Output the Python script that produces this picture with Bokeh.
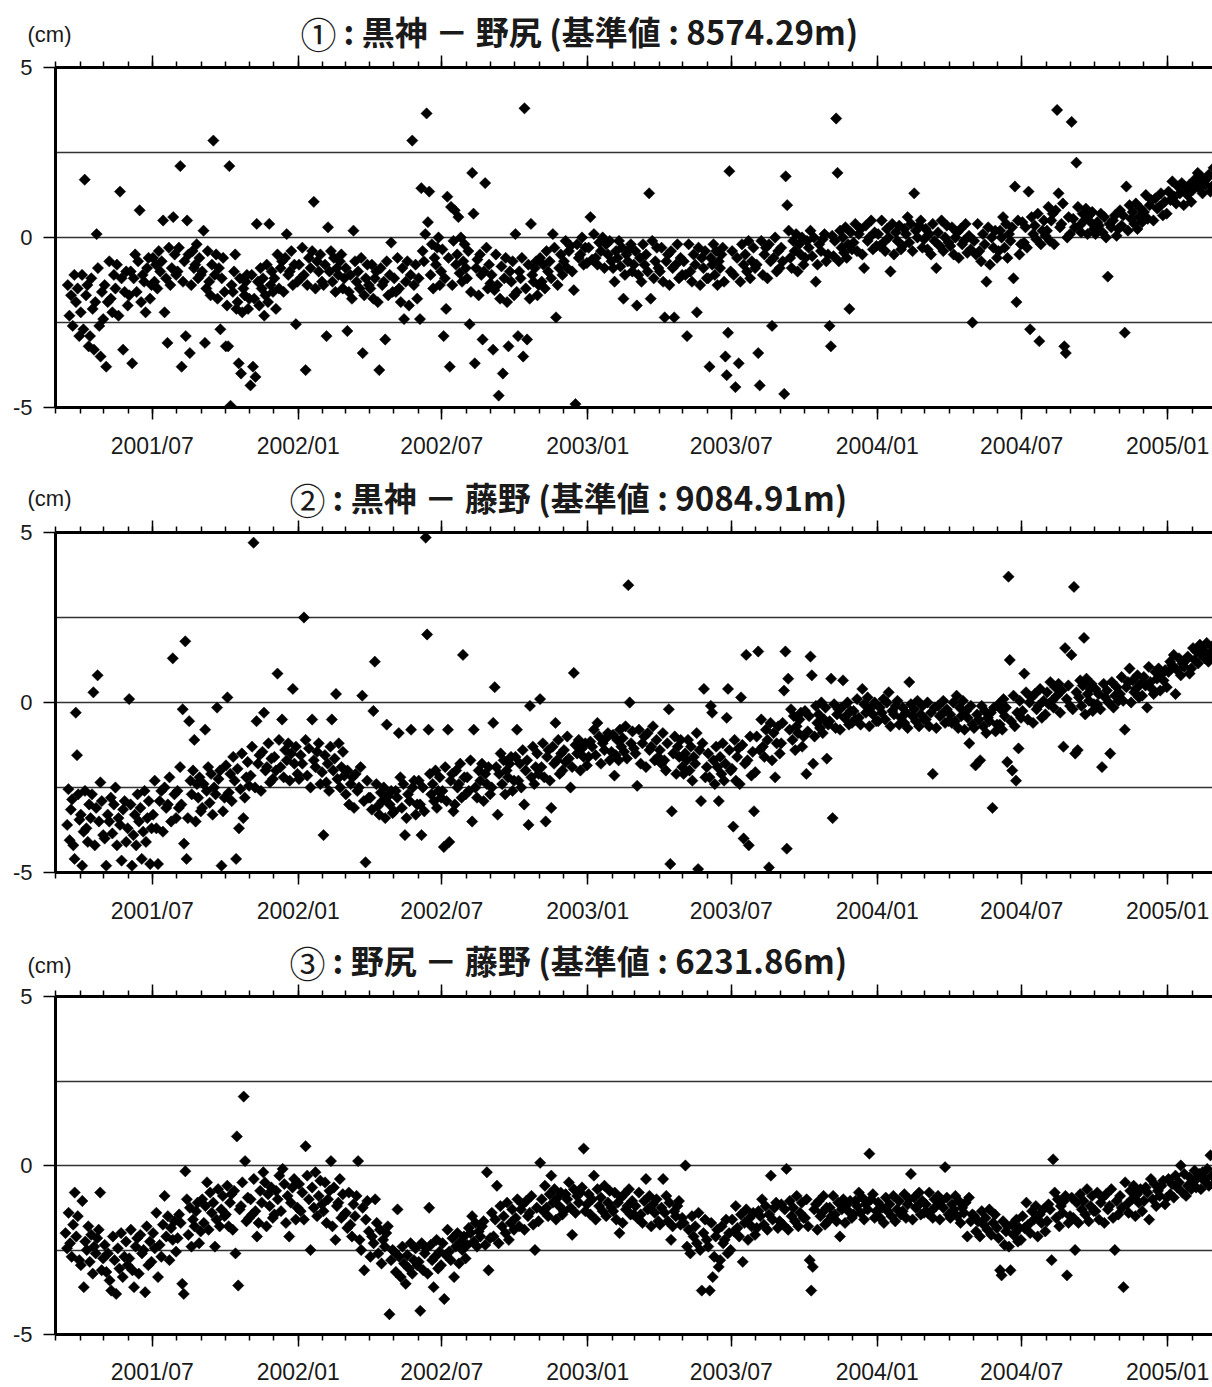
import numpy as np
import pandas as pd
from bokeh.plotting import figure
from bokeh.layouts import column
from bokeh.models import Range1d, LinearAxis, FixedTicker, Label, Grid
from bokeh.embed import file_html
from bokeh.resources import INLINE

# ---------------- data ----------------
months = [str(p) for p in pd.period_range("2001-03", "2005-02", freq="M")]

tick_dates = ["2001-07-01", "2002-01-01", "2002-07-01", "2003-01-01",
              "2003-07-01", "2004-01-01", "2004-07-01", "2005-01-01"]
tick_labels = ["2001/07", "2002/01", "2002/07", "2003/01",
               "2003/07", "2004/01", "2004/07", "2005/01"]
y_ticks = [-5, 0, 5]
y_tick_labels = ["-5", "0", "5"]

circled = ["①", "②", "③"]
title_texts = [": 黒神 － 野尻 (基準値 : 8574.29m)",
               ": 黒神 － 藤野 (基準値 : 9084.91m)",
               ": 野尻 － 藤野 (基準値 : 6231.86m)"]

N = None
p1_vals = [
    [N, N, N, N, N, N, N, -1.4, -2.3, -1.7, -2.6, -1.1, -1.9, -1.5, -2.9],
    [-2.2, -1.1, -2.7, 1.7, -1.7, -1.4, -3.2, -2.9, -1.2, -2.1, -3.3, -1.9, 0.1, -0.9, -2.6, -3.5, -1.6, -2.4],
    [-1.4, -3.8, -1.9, -0.7, -1.8, -2.2, -1.1, -1.5, -0.8, -2.3, 1.35, -1.2, -3.3, -1.6, -1.0, -2.0],
    [-1.7, -1.0, -3.7, -1.2, -0.5, -1.6, -0.7, 0.8, -1.9, -1.1, -1.3, -2.2, -0.9, -0.6, -1.8, -1.4],
    [-0.6, -1.3, -0.8, -1.5, -0.4, -1.0, -0.7, 0.5, -2.2, -1.2, -3.1, -0.3, -1.4, -0.9, 0.6, -0.5, -1.1],
    [-1.0, -0.3, 2.1, -3.8, -1.3, -0.7, -2.9, 0.5, -0.5, -3.4, -1.4, -0.4, -0.9, -0.8, -0.2, -1.2, -0.6, -1.1],
    [-1.0, 0.2, -3.1, -1.5, -0.4, -1.3, -1.7, -0.8, 2.85, -1.1, -0.5, -1.8, -0.9, -2.7, -1.2, -0.6, -1.6],
    [-3.2, -2.0, -3.2, 2.1, -4.95, -1.4, -1.6, -1.0, -0.5, -2.1, -1.9, -3.7, -1.2, -4.0, -2.2, -1.5, -1.7, -1.3, -1.1, -2.1, -1.8],
    [-4.35, -1.1, -3.8, -1.8, -4.1, 0.4, -1.3, -2.0, -0.9, -1.5, -1.2, -2.3, -1.7, -0.8, -1.9, 0.4, -1.4, -1.0, -1.6],
    [-1.2, -2.1, -0.5, -1.5, -0.9, -0.7, -1.6, -0.6, 0.1, -1.1, -1.0, -0.4, -1.4, -0.8, -2.55, -1.3],
    [-0.8, -1.2, -0.3, -1.1, -3.9, -1.4, -0.6, -0.9, -0.4, 1.05, -1.5, -0.7, -1.0, -0.5, -1.3],
    [-1.4, -0.8, -2.9, 0.3, -1.0, -0.4, -1.3, -0.6, -1.6, -0.9, -1.1, -0.7, -0.5, -1.5, -1.2],
    [-0.9, -2.75, -1.6, -1.1, -1.8, 0.2, -0.7, -1.3, -1.0, -1.5, -0.6, -3.4, -1.7, -1.2, -0.8, -1.4],
    [-1.5, -0.8, -1.8, -1.2, -1.0, -1.9, -3.9, -0.9, -1.4, -1.3, -3.0, -0.7, -1.7, -1.1, -0.15, -1.6],
    [-1.2, -1.6, -0.6, -1.5, -1.9, -0.9, -2.4, -1.3, -0.7, -2.0, -1.1, 2.85, -1.4, -0.8, -1.8],
    [-1.2, -2.4, 1.45, -0.4, -0.7, 0.1, 3.65, 0.45, 1.35, -1.1, -0.2, -1.5, -0.6, -0.8, -0.3, 0.0, -1.4, -1.0],
    [-0.35, -2.9, -1.2, -2.1, 1.2, -0.6, -3.8, 0.9, -1.4, -0.1, 0.8, -0.8, -0.5, 0.6, -1.05, 0.0, -1.3, -0.7, -0.2, -0.9],
    [-1.2, -0.4, -2.55, -1.6, 1.9, 0.7, -3.7, -0.9, -0.65, -1.7, -0.5, -1.1, -3.0, -1.0, 1.6, -0.3, -1.5, -0.8, -1.35],
    [-1.1, -3.3, -1.55, -0.5, -1.4, -4.65, -1.8, -0.85, -4.0, -1.2, -0.6, -1.9, -3.2, -1.0, -1.3, -0.7, -1.7],
    [0.1, -1.6, -2.9, -1.0, -1.2, -0.6, -3.5, 3.8, -1.5, -3.0, -0.8, -1.8, 0.4, -1.1, -1.3, -0.9, -0.7, -1.7, -1.4],
    [-0.6, -1.3, -0.8, -1.5, -0.4, -1.0, -0.7, -1.2, 0.1, -0.3, -2.35, -1.4, -0.9, -0.5, -1.1],
    [-0.7, -0.1, -0.9, -0.4, -0.25, -1.0, -1.55, -4.9, -0.2, -0.6, -0.5, 0.0, -0.8, -0.3, -0.75],
    [-0.3, 0.6, -0.65, 0.1, -0.6, -0.8, -0.15, -0.4, 0.0, -0.9, -0.2, -0.5, -0.1, -0.7],
    [-0.9, -1.3, -0.4, -0.6, -0.1, -0.85, -0.3, -1.8, -1.1, -0.5, -0.7, -0.35, -0.2, -1.0, -0.8],
    [-0.4, -2.0, -1.1, -0.6, -1.3, -0.2, -0.8, -0.5, -1.0, 1.3, -1.8, -0.1, -1.2, -0.7, -0.3, -0.9],
    [-1.0, -0.3, -1.3, -2.35, -0.7, -0.5, -1.4, -0.4, -0.9, -2.35, -0.8, -0.2, -1.2, -0.6, -1.1],
    [-0.7, -1.1, -2.9, -0.2, -1.0, -1.3, -0.5, -0.8, -2.2, -0.3, -1.4, -0.6, -0.9, -0.4, -1.2],
    [-1.2, -3.8, -0.6, -0.8, -0.2, -1.1, -0.4, -1.4, -0.7, -0.9, -0.5, -0.3, -1.3, -3.5, -4.05, -2.8, 1.95, -1.0],
    [-0.4, -1.1, -4.4, -0.6, -3.7, -1.3, -0.2, -0.8, -0.5, -1.0, -0.1, -1.2, -0.7, -0.3, -0.9],
    [-0.8, -3.4, -4.35, -0.1, -1.1, -0.5, -0.3, -1.2, -0.2, -0.7, -2.6, -0.6, 0.0, -1.0, -0.4, -0.9],
    [-0.3, -0.7, -4.6, 1.8, 0.95, 0.2, -0.6, -0.9, -0.1, -0.4, 0.1, -1.0, -0.2, -0.5, 0.0, -0.8],
    [-0.6, -0.1, -0.3, 0.2, -0.55, 0.0, -1.3, -0.8, -0.2, -0.4, -0.05, 0.1, -0.7, -0.5],
    [-2.6, -3.2, 0.05, -0.55, -0.1, 3.5, 1.9, -0.7, 0.2, -0.3, 0.0, -0.45, 0.3, -0.6, -0.2, -2.1, 0.15, -0.35],
    [-0.15, 0.4, -0.4, 0.1, 0.25, -0.5, -0.9, 0.35, -0.1, 0.0, 0.5, -0.35, 0.15, -0.25],
    [0.1, -0.25, 0.5, -0.15, -0.4, 0.25, 0.0, -1.0, 0.4, -0.5, 0.15, -0.1, 0.35, -0.35],
    [-0.25, 0.25, 0.1, 0.6, -0.15, 0.4, -0.4, 1.3, 0.2, 0.0, 0.35, 0.5, -0.3, -0.05],
    [0.25, -0.35, 0.1, -0.5, 0.4, -0.1, -0.9, 0.15, -0.25, 0.5, -0.4, 0.0, 0.35, -0.15],
    [-0.25, 0.3, -0.5, 0.0, 0.15, -0.6, 0.25, -0.2, -0.1, 0.4, -0.45, 0.05, -0.35, -2.5],
    [-0.1, -0.5, 0.4, -0.4, -0.7, 0.1, -0.2, -1.3, 0.3, -0.8, 0.0, -0.3, 0.2, -0.6],
    [-0.4, 0.2, 0.0, 0.6, -0.3, 0.4, -0.6, 0.1, -0.1, 0.3, -1.2, 1.5, -1.9, 0.5, -0.5, -0.2],
    [0.45, -0.15, 0.3, -0.3, 1.35, -2.7, 0.6, 0.1, 0.35, -0.05, 0.7, -3.05, -0.2, 0.2, 0.5, 0.05],
    [0.2, 0.9, -0.1, 0.5, 0.7, -0.2, 0.8, 3.75, 1.3, 0.3, 0.4, 1.0, -3.2, -3.4, 0.0, 0.6, 0.1],
    [3.4, 0.55, 0.3, 2.2, 0.9, 0.35, 0.15, 0.7, 0.5, 0.85, 0.1, 0.65, 0.45, 0.75, 0.25],
    [0.1, 0.45, 0.35, 0.7, 0.15, 0.6, 0.0, -1.15, 0.4, 0.3, 0.5, 0.65, 0.05, 0.25],
    [0.8, 0.35, 0.65, -2.8, 1.5, 0.2, 0.95, 0.55, 0.75, 0.4, 1.0, 0.25, 0.6, 0.85, 0.45],
    [0.75, 1.25, 0.55, 0.95, 1.1, 0.5, 1.15, 0.85, 0.9, 1.3, 0.65, 1.05, 0.7],
    [1.35, 1.1, 1.65, 1.2, 1.0, 1.5, 1.3, 1.6, 0.95, 1.45, 1.25, 1.55, 1.05],
    [1.4, 1.7, 1.6, 1.9, 1.45, 1.8, 1.3, 1.65, 1.55, 1.75, 1.85, 1.35, 1.5, 2.05],
]

p2_vals = [
    [N, N, N, N, N, N, N, N, N, -3.6, -2.55, -4.05, -3.15, -2.85, -4.2, -4.6, -0.3, -1.55, -2.7, -3.45],
    [-3.3, -4.8, -3.8, -2.6, -3.7, -4.1, -3.0, -3.4, -2.7, 0.3, -4.2, -3.1, 0.8, -3.5, -2.35, -2.9, -3.9],
    [-4.0, -4.8, -3.3, -3.5, -2.8, -3.85, -3.0, -2.5, -4.2, -3.4, -3.6, -4.65, -3.15, -2.9, -4.1, -3.7],
    [0.1, -3.0, -4.8, -3.9, -3.3, -4.2, -2.7, -3.5, -3.1, -4.6, -3.8, -2.6, -4.1, -3.4, -2.9, -4.75, -3.7],
    [-3.3, -2.3, -3.7, -4.75, -2.9, -2.6, -3.8, -2.5, -3.1, -3.0, -2.2, -3.5, 1.3, -2.7, -3.4],
    [-2.6, -3.1, -1.9, -3.0, -0.2, -4.15, 1.8, -4.6, -3.4, -0.55, -2.3, -2.7, -2.0, -1.1, -3.5, -2.4, -2.8, -2.2, -3.2],
    [-3.1, -2.4, -0.8, -2.6, -1.9, -2.95, -2.1, -3.3, -2.5, -2.7, -0.15, -2.25, -2.0, -4.8, -3.2, -2.8],
    [-1.85, 0.15, -2.65, -2.1, -2.9, -1.6, -2.3, -4.6, -1.95, -3.7, -2.55, -1.5, -3.4, -2.8, -2.2, -1.75, -2.45],
    [-2.15, -1.3, 4.7, -2.5, -0.55, -1.8, -1.55, -2.6, -1.45, -0.3, -2.0, -1.9, -1.2, -2.35, -1.65, -2.25],
    [-1.6, -2.0, 0.85, -1.1, -1.9, -0.5, -2.2, -1.4, -1.7, -1.2, -2.3, -1.5, 0.4, -1.8, -1.3, -2.1],
    [-2.25, -1.55, -1.8, 2.5, -1.1, -2.15, -1.35, -2.5, -0.5, -1.7, -1.9, -1.45, -1.2, -2.4, -2.05],
    [-3.9, -1.55, -2.35, -1.8, -2.6, -1.3, -0.5, -2.0, -1.65, 0.25, -2.25, -1.2, -2.5, -1.9, -1.45, -2.15],
    [-2.7, -2.0, -3.0, -2.4, -2.2, -3.1, -2.1, -2.6, -2.5, -1.9, 0.2, -2.9, -4.7, -2.3, -2.8],
    [-2.8, -3.15, -0.25, 1.2, -2.4, -3.05, -3.3, -2.65, -2.9, -2.5, -3.4, -0.65, -2.75, -3.0, -2.6, -3.25],
    [-3.2, -2.6, -2.8, -0.9, -2.2, -3.1, -2.4, -3.9, -3.4, -2.7, -2.9, -0.8, -2.5, -2.3, -3.3, -3.0],
    [-2.3, -3.0, -3.9, -2.5, -3.2, 4.85, 2.0, -0.8, -2.1, -2.7, -2.4, -2.9, -2.0, -3.1, -2.6, -2.2, -2.8],
    [-2.6, -4.25, -1.9, -2.9, -0.8, -4.1, -2.3, -2.1, -3.2, -3.0, -2.0, -2.5, -2.4, -1.8, -2.8, 1.4, -2.2, -2.7],
    [-2.2, -2.6, -1.7, -3.5, -0.8, -2.5, -2.8, -2.0, -2.3, -1.8, -2.9, -2.1, -2.4, -1.9, -2.7],
    [-2.5, -0.6, 0.45, -1.9, -3.3, -2.1, -1.5, -2.4, -1.7, -2.7, -2.0, -2.2, -1.8, -1.6, -2.6, -2.3],
    [-1.6, -0.8, -2.3, -1.8, -2.5, -1.4, -3.0, -2.0, -1.7, -3.6, -0.1, -2.2, -1.3, -2.4, -1.9, -1.5, -2.1],
    [0.1, -1.9, -1.2, -2.2, -3.5, -1.6, -1.4, -2.3, -3.1, -1.3, -1.8, -0.6, -1.7, -1.1, -2.1, -1.5, -2.0],
    [-1.4, -1.75, -1.0, -1.65, -2.5, -1.9, 0.87, -1.25, -1.5, -1.1, -2.0, -1.35, -1.6, -1.2, -1.85],
    [-1.6, -1.15, -1.3, -0.8, -1.55, -0.6, -1.0, -1.8, -1.2, -1.4, -1.05, -0.9, -1.7, -1.45],
    [-0.95, -2.15, -1.55, -1.1, -1.7, -0.8, -1.3, -1.05, -1.45, -0.7, -1.65, 3.45, 0.0, -1.2, -0.85, -1.35],
    [-1.5, -2.45, -0.8, -1.8, -1.2, -1.0, -1.9, -0.9, -1.4, -1.3, -0.7, -1.7, -1.1, -1.6],
    [-1.4, -1.8, -0.9, -1.7, -2.0, -1.2, -0.2, -4.75, -3.2, -1.5, -1.0, -2.1, -1.3, -1.6, -1.1, -1.9],
    [-2.1, -1.5, -1.7, -1.1, -2.0, -1.3, -2.3, -1.6, -1.8, -0.9, -4.9, -1.4, -2.9, -1.2, 0.4, -2.2, -1.9],
    [-1.5, -2.2, -0.1, -0.3, -1.7, -2.4, -1.3, -1.9, -2.9, -1.6, -2.1, -1.2, -2.3, -1.8, -0.45, 0.4, -1.4, -2.0],
    [-1.95, -3.65, -1.1, -2.3, -1.6, -1.35, -2.4, 0.15, -1.25, -4.0, -1.8, 1.4, -1.7, -4.2, -1.0, -2.15, -1.45, -3.2, -2.05],
    [-1.0, 1.5, -1.4, -0.5, -1.3, -1.6, -0.8, -1.1, -4.85, -0.6, -1.7, -0.9, -2.2, -1.2, -0.7, -1.5],
    [-1.2, -0.6, 0.35, 1.5, -4.3, 0.7, -0.8, -0.2, -1.1, -0.4, -1.4, -0.7, -0.9, -0.5, -0.3, -1.3, -1.0],
    [-0.25, -2.1, -0.85, -0.4, 1.35, 0.8, -1.8, -1.0, -0.1, -0.6, -0.35, -0.75, 0.0, -0.9, -0.5, -0.15, -1.65, -0.65],
    [-0.55, 0.7, -3.4, -0.05, -0.75, -0.35, -0.2, -0.8, -0.15, 0.65, -0.45, -0.4, 0.0, -0.65, -0.25, -0.6],
    [-0.25, -0.5, 0.1, -0.45, -0.65, 0.4, -0.05, -0.3, 0.15, -0.7, -0.15, -0.35, 0.0, -0.55],
    [-0.55, -0.15, -0.3, 0.1, -0.5, 0.0, 0.3, -0.7, -0.25, -0.35, -0.1, 0.05, -0.65, -0.45],
    [-0.15, -0.6, -0.3, -0.75, 0.6, -0.05, -0.4, -0.2, -0.55, 0.05, -0.7, -0.35, -0.1, -0.5],
    [-0.5, 0.0, -0.7, -0.3, -2.1, -0.15, -0.75, -0.1, -0.4, -0.35, 0.05, -0.6, -0.2, -0.55],
    [-0.35, -0.6, 0.0, -0.55, 0.2, -0.75, -0.15, -0.4, 0.05, -0.8, -0.25, -0.45, -1.2, -0.1, -0.65],
    [-0.75, -1.85, -0.35, -0.5, -1.7, -0.1, -0.7, -0.25, -0.9, -0.45, -0.55, -0.3, -3.1, -0.15, -0.85, -0.65],
    [-0.05, -0.65, -0.2, -0.8, 0.1, -0.4, -0.15, -1.75, 3.7, 1.25, -0.55, -2.0, 0.2, -0.7, -2.3, -0.3, -1.35, 0.05, -0.45],
    [-0.25, 0.85, 0.3, -0.5, 0.0, 0.15, -0.6, 0.25, -0.2, -0.1, 0.4, -0.45, 0.05, -0.35],
    [0.3, -0.05, 0.6, 0.05, -0.15, 0.45, 0.2, 0.55, -0.3, 0.35, -1.3, 1.6, 0.1, 0.5, -0.1],
    [1.4, -0.2, 3.4, -1.5, 0.3, -1.4, 0.15, 0.65, -0.1, 0.5, 1.9, -0.35, 0.7, 0.25, 0.05, 0.4, 0.55, -0.25, -0.05],
    [0.4, -0.05, 0.25, -0.2, -1.9, 0.55, 0.15, 0.35, 0.0, -1.5, 0.6, -0.15, 0.2, 0.45, 0.05],
    [0.25, 0.75, 0.05, -0.8, 0.45, 0.6, 1.0, 0.0, 0.65, 0.3, 0.4, 0.8, 0.15, 0.55, 0.2],
    [0.75, 0.5, -0.15, 1.05, 0.6, 0.4, 0.25, 0.9, 0.7, 1.0, 0.35, 0.85, 0.65, 0.95, 0.45],
    [0.9, 1.2, 1.1, 1.4, 0.25, 0.95, 1.3, 0.8, 1.15, 1.05, 1.25, 1.35, 0.85, 1.0],
    [1.6, 1.25, 1.5, 1.15, 1.7, 1.4, 1.55, 1.3, 1.75, 1.2, 1.45, 1.65, 1.35],
]

p3_vals = [
    [N, N, N, N, N, N, -2.0, -2.45, -1.4, -2.3, -2.7, -1.75, -0.8, -2.1, -1.5, -2.8],
    [-2.95, -1.05, -3.6, -2.25, -2.5, -1.8, -2.85, -2.05, -3.2, -2.4, -2.6, -2.15, -1.9, -0.8, -3.1, -2.75],
    [-2.35, -3.15, -2.6, -3.4, -3.7, -2.1, -2.8, -3.8, -2.45, -3.05, -2.0, -3.3, -2.7, -2.25, -2.95],
    [-2.75, -1.9, -3.1, -3.6, -2.4, -2.15, -3.2, -2.05, -2.6, -2.5, -3.75, -1.8, -2.95, -2.25, -2.85],
    [-2.0, -2.45, -1.4, -3.3, -2.35, -2.7, -1.75, -0.9, -2.1, -1.5, -2.8, -1.85, -2.2, -1.65, -2.55],
    [-2.15, -1.45, -1.7, -3.5, -3.8, -0.17, -1.0, -2.05, -1.25, -2.4, -1.6, -1.8, -1.35, -1.1, -2.3, -1.95],
    [-1.0, -1.7, -1.2, -0.5, -1.9, -0.8, -1.4, -1.1, -2.4, -1.6, -0.7, -1.8, -1.3, -0.9, -1.5],
    [-1.45, -0.6, -1.8, -1.1, -0.85, -1.9, -0.75, -2.6, 0.86, -3.55, -1.3, -1.2, -0.5, 2.04, 0.13, -1.65, -0.95, -1.55],
    [-1.0, -1.45, -0.4, -1.35, -2.1, -1.7, -0.75, -1.1, -0.2, -0.5, -1.8, -0.85, -1.2, -0.65, -1.55],
    [-1.45, -0.75, -1.0, -0.3, -1.35, -0.1, -0.55, -1.7, -0.9, -2.1, -1.1, -0.65, -0.4, -1.6, -1.25],
    [-0.55, -1.35, -0.8, -1.6, 0.57, -0.3, -1.0, -2.5, -0.65, -1.25, -0.2, -1.5, -0.9, -0.45, -1.15],
    [-1.35, -0.5, -1.7, -1.0, -0.75, 0.13, -1.8, -0.65, -2.2, -1.2, -1.1, -0.4, -1.55, -0.85, -1.45],
    [-1.4, -1.85, -0.8, -1.75, -2.1, -1.15, -1.5, -0.9, 0.13, -2.2, -2.5, -1.25, -3.1, -1.6, -1.05, -1.95],
    [-2.7, -2.1, -2.3, -1.0, -1.7, -2.6, -1.9, -2.9, -2.2, -2.4, -2.0, -1.8, -4.4, -2.8, -2.5],
    [-2.55, -3.15, -1.3, -2.7, -3.3, -2.4, -2.9, -3.5, -2.65, -3.05, -2.3, -3.2, -2.8, -2.45, -2.95],
    [-2.85, -4.3, -2.3, -3.1, -2.6, -2.45, -3.2, -1.25, -2.35, -2.8, -3.6, -2.7, -2.2, -3.05, -2.55, -2.95],
    [-2.3, -3.95, -2.65, -1.9, -2.55, -2.8, -2.15, -3.3, -2.4, -2.0, -2.9, -2.25, -2.5, -2.1, -2.75],
    [-2.35, -1.85, -2.0, -1.5, -2.25, -1.7, -2.4, -1.95, -2.1, -1.8, -1.65, -2.35, -0.2, -3.1, -2.15],
    [-1.4, -2.1, -1.6, -0.6, -2.3, -1.2, -1.8, -1.5, -2.0, -1.1, -2.2, -1.7, -1.3, -1.9],
    [-1.55, -1.0, -1.8, -1.3, -1.15, -1.9, -1.05, -1.5, -1.4, -0.9, -1.75, -2.5, -1.25, -1.65],
    [0.08, -1.0, -1.35, -0.6, -1.25, -1.5, -0.85, -0.3, -1.1, -0.7, -1.6, -0.95, -1.2, -0.8, -1.45],
    [-1.35, -0.85, -1.0, -0.5, -1.25, -2.05, -0.7, -1.4, -0.9, -1.1, -0.8, -0.65, 0.5, -1.35, -1.15],
    [-0.85, -1.45, -1.0, -0.3, -1.6, -0.7, -1.2, -0.95, -1.35, -0.6, -1.5, -1.1, -0.75, -1.25],
    [-1.35, -0.8, -1.6, -1.1, -2.0, -0.95, -1.7, -0.85, -1.3, -1.2, -0.7, -1.45, -1.05, -1.45],
    [-1.2, -1.55, -0.8, -1.45, -1.7, -1.05, -0.4, -1.3, -0.9, -1.8, -1.15, -1.4, -1.0, -1.65],
    [-1.75, -1.25, -0.4, -1.4, -0.9, -1.65, -1.1, -2.2, -1.8, -1.35, -1.5, -1.2, -1.05, -1.75, -1.55],
    [-1.7, 0.0, -2.4, -1.9, -2.6, -1.5, -2.1, -1.8, -2.3, -1.4, -2.5, -3.7, -2.0, -1.6, -2.2],
    [-2.4, -3.7, -1.7, -3.3, -2.7, -2.1, -1.9, -3.0, -2.8, -1.8, -2.3, -2.2, -1.6, -2.6, -2.0, -2.5],
    [-1.6, -1.95, -1.2, -1.85, -2.1, -1.45, -2.85, -1.7, -1.3, -2.2, -1.55, -1.8, -1.4, -2.05],
    [-1.85, -1.35, -1.5, -1.0, -1.75, -1.2, -1.9, -1.45, -0.3, -1.6, -1.25, -1.1, -1.85, -1.65],
    [-1.15, -1.75, -1.3, -0.1, -1.9, -1.05, -1.5, -1.25, -1.65, -0.9, -1.8, -1.4, -1.1, -1.55],
    [-1.55, -1.0, -1.8, -2.8, -3.7, -3.0, -1.3, -1.15, -1.9, -1.05, -1.5, -1.4, -0.9, -1.75, -1.25, -1.65],
    [-1.25, -1.5, -0.9, -1.45, -1.65, -1.1, -2.1, -1.3, -1.0, -1.7, -1.15, -1.35, -1.05, -1.55],
    [-1.45, -1.05, -1.2, -0.8, -1.4, -0.95, -1.6, -1.15, -1.3, 0.35, -1.0, -0.85, -1.55, -1.35],
    [-1.1, -1.55, -1.25, -1.7, -0.95, -1.35, -1.15, -1.5, -0.9, -1.65, -1.3, -1.05, -1.45],
    [-1.35, -0.85, -1.55, -1.15, -1.0, -0.25, -1.6, -0.95, -1.25, -1.2, -0.8, -1.45, -1.05, -1.4],
    [-1.15, -1.4, -0.8, -1.35, -1.55, -1.0, -1.2, -0.9, -1.6, -1.05, -1.25, -0.05, -0.95, -1.45],
    [-1.55, -1.15, -1.3, -0.9, -1.5, -1.05, -1.7, -1.25, -1.4, -1.1, -2.1, -0.95, -1.65, -1.45],
    [-1.5, -1.95, -1.65, -2.1, -1.35, -1.75, -1.55, -1.9, -1.3, -2.05, -1.7, -1.45, -1.85],
    [-2.15, -3.1, -3.25, -1.65, -2.35, -1.95, -1.8, -2.4, -3.1, -1.75, -2.05, -2.0, -1.6, -2.25, -1.85, -2.2],
    [-1.5, -1.85, -1.1, -1.75, -2.0, -1.35, -1.6, -1.2, -2.1, -1.45, -1.7, -1.3, -1.95],
    [-1.65, -1.15, -1.3, -2.8, 0.18, -0.8, -1.55, -1.0, -1.8, -1.2, -1.4, -1.05, -0.9, -3.25, -1.7, -1.5],
    [-0.95, -1.55, -2.5, -1.1, -1.7, -0.85, -1.3, -1.05, -1.45, -0.7, -1.65, -1.2, -0.9, -1.35],
    [-1.35, -0.8, -1.6, -1.1, -0.95, -1.7, -0.85, -1.3, -1.2, -0.7, -1.55, -2.5, -1.05, -1.45],
    [-0.9, -1.25, -3.6, -0.5, -1.15, -1.4, -0.75, -1.0, -0.6, -1.5, -0.85, -1.1, -0.7, -1.35],
    [-1.05, -0.65, -0.8, -1.6, -0.4, -1.0, -0.55, -1.2, -0.75, -0.9, -0.6, -0.45, -1.15, -0.95],
    [-0.4, -0.85, -0.55, -0.95, -0.3, -0.65, -0.5, 0.0, -0.8, -0.25, -0.9, -0.6, -0.35, -0.7],
    [-0.5, -0.15, -0.65, -0.35, -0.25, -0.7, -0.2, -0.45, -0.4, -0.1, -0.6, 0.3, -0.3, -0.55],
]

assert len(p1_vals) == len(p2_vals) == len(p3_vals) == len(months)

# ---------------- helpers ----------------
BASE = pd.Timestamp("2001-03-01")
X_END = 1458.6
TXT = "#1a1a1a"
SANS = "Liberation Sans"
CJK = "Noto Sans CJK JP"
W = 1212
NBSP = "\u00a0"


def no_align(fig):
    try:
        fig.frame_align = False
    except Exception:
        pass


def month_points(vals_by_month):
    xs, ys = [], []
    for m, vals in zip(months, vals_by_month):
        t0 = pd.Timestamp(m + "-01")
        start = (t0 - BASE).days
        length = t0.days_in_month
        n = len(vals)
        for k, v in enumerate(vals):
            if v is None:
                continue
            xs.append(start + (k + 0.5) * length / n)
            ys.append(v)
    return xs, ys


major_days = [(pd.Timestamp(d) - BASE).days for d in tick_dates]
minor_days = [(pd.Timestamp(m + "-01") - BASE).days for m in months]


def make_header(i, height, title_y, cm_y, circ_x, text_x):
    h = figure(width=W, height=height, x_range=Range1d(0, W),
               y_range=Range1d(height, 0), x_axis_type=None, y_axis_type=None,
               output_backend="svg", toolbar_location=None, min_border=0)
    no_align(h)
    h.outline_line_color = None
    h.background_fill_color = "white"
    h.border_fill_color = "white"
    h.add_layout(Label(x=27, y=cm_y, text="(cm)", text_align="left",
                       text_baseline="middle", text_font=SANS,
                       text_font_size="22px", text_color=TXT))
    # circled number, padded so its glyph does not touch its own box edges
    h.add_layout(Label(x=circ_x, y=title_y + 2, text=NBSP + circled[i] + NBSP,
                       text_align="center", text_baseline="middle", text_font=CJK,
                       text_font_size="36px", text_color=TXT))
    h.add_layout(Label(x=text_x, y=title_y, text=title_texts[i], text_align="left",
                       text_baseline="middle", text_font=CJK, text_font_style="bold",
                       text_font_size="33px", text_color=TXT))
    return h


def make_panel(vals, height, btop, bbot, standoff):
    p = figure(width=W, height=height, x_range=Range1d(0, X_END),
               y_range=Range1d(-5, 5), x_axis_type=None, y_axis_type=None,
               output_backend="svg", toolbar_location=None,
               min_border_left=55, min_border_right=0,
               min_border_top=btop, min_border_bottom=bbot)
    no_align(p)
    p.outline_line_color = None
    p.background_fill_color = "white"
    p.border_fill_color = "white"

    p.add_layout(Grid(dimension=1, ticker=FixedTicker(ticks=[-2.5, 0, 2.5]),
                      grid_line_color="#333333", grid_line_width=1.6))

    xticker = FixedTicker(ticks=major_days, minor_ticks=minor_days)
    common = dict(ticker=xticker, axis_line_width=3, axis_line_color="black",
                  major_tick_out=12, major_tick_in=0,
                  minor_tick_out=6, minor_tick_in=0,
                  major_tick_line_width=1.5, minor_tick_line_width=1.5)

    bottom = LinearAxis(major_label_standoff=standoff,
                        major_label_overrides=dict(zip(major_days, tick_labels)),
                        major_label_text_font=SANS,
                        major_label_text_font_size="23px",
                        major_label_text_color=TXT, **common)
    p.add_layout(bottom, "below")

    top = LinearAxis(major_label_standoff=0, major_label_text_font_size="0px",
                     major_label_overrides={d: "" for d in major_days}, **common)
    p.add_layout(top, "above")

    yax = LinearAxis(ticker=FixedTicker(ticks=y_ticks, minor_ticks=[]),
                     axis_line_width=3, axis_line_color="black",
                     major_tick_out=12, major_tick_in=0,
                     major_tick_line_width=1.5, minor_tick_line_color=None,
                     major_label_standoff=11,
                     major_label_overrides=dict(zip(y_ticks, y_tick_labels)),
                     major_label_text_font=SANS,
                     major_label_text_font_size="22px",
                     major_label_text_color=TXT)
    p.add_layout(yax, "left")

    xs, ys = month_points(vals)
    p.scatter(xs, ys, marker="square", angle=np.pi / 4, size=8,
              fill_color="black", line_color="black", line_width=0.5)
    return p


h1 = make_header(0, 55, 30, 34, 318, 343)
p1 = make_panel(p1_vals, 417, 12, 65, 13)
h2 = make_header(1, 48, 24, 26, 307, 332)
p2 = make_panel(p2_vals, 416, 12, 64, 13)
h3 = make_header(2, 48, 23, 29, 307, 332)
p3 = make_panel(p3_vals, 403, 12, 51, 12)

layout = column(h1, p1, h2, p2, h3, p3)
open("out.html", "w").write(file_html(layout, INLINE))
